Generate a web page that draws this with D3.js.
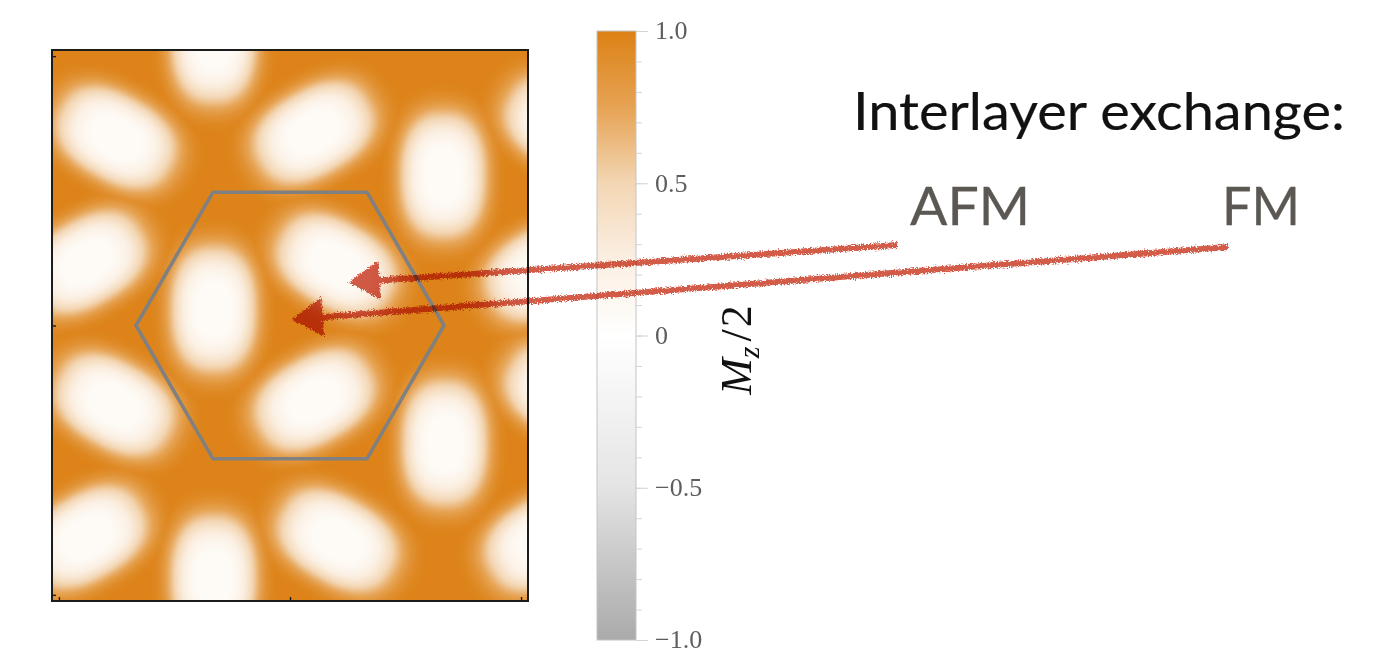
<!DOCTYPE html>
<html>
<head>
<meta charset="utf-8">
<script src="https://cdn.jsdelivr.net/npm/d3@7"></script>
<style>
  html, body { margin: 0; padding: 0; background: #fff; }
  svg { display: block; }
</style>
</head>
<body>
<div id="chart"></div>
<script>
// blob centres, in plot units, grouped by the direction of the long axis
const vertBlobs = [[-0.99, 3.70], [-0.99, 0.21], [-0.99, -3.28], [1.99, 1.95], [2.01, -1.53]];
const backBlobs = [[-2.26, 2.44], [0.60, 0.79], [-2.28, -1.03], [0.62, -2.79], [3.57, 2.58], [3.57, -0.90]];
const slashBlobs = [[0.31, 2.51], [-2.64, 0.82], [0.32, -0.97], [-2.64, -2.75], [3.31, 0.72], [3.31, -2.79]];
const blobAngles = { vert: 90, back: -30, slash: 30 };
const blobAxes = [0.76, 0.52];   // semi-major, semi-minor
const coreValue = 0.07;          // Mz/2 in the middle of a blob
const plainValue = 1.0;          // Mz/2 away from the blobs

// unit cell outline
const hexCorners = [[2, 0], [1, 1.732], [-1, 1.732], [-2, 0], [-1, -1.732], [1, -1.732]];

const xTicks = [-3, 0, 3];
const yTicks = [-3.5, 0, 3.5];
const barTicks = [-1, -0.5, 0, 0.5, 1];
const barLabels = ['\u22121.0', '\u22120.5', '0', '0.5', '1.0'];
const colorStops = [-1, -0.5, 0, 0.25, 0.5, 0.75, 1];
const colorValues = ['#aaaaaa', '#e4e4e4', '#ffffff', '#fbefe2', '#f3d6b4', '#e6a354', '#dc8115'];

// where the arrows point, plot units
const arrowTargets = { AFM: [0.78, 0.56], FM: [0.04, 0.08] };

const W = 1394, H = 653;
const plot = { left: 52, right: 528, top: 50, bottom: 601 };
const bar = { left: 597, right: 636, top: 31, bottom: 640 };

const svg = d3.select('#chart').append('svg')
  .attr('width', W)
  .attr('height', H);

const defs = svg.append('defs');

const x = d3.scaleLinear().domain([-3.09, 3.09]).range([plot.left, plot.right]);
const y = d3.scaleLinear().domain([-3.58, 3.58]).range([plot.bottom, plot.top]);
const color = d3.scaleLinear().domain(colorStops).range(colorValues).clamp(true);

// field from the blobs
const blobs = [
  ...vertBlobs.map(p => ({ p, a: blobAngles.vert })),
  ...backBlobs.map(p => ({ p, a: blobAngles.back })),
  ...slashBlobs.map(p => ({ p, a: blobAngles.slash }))
];

function field(u, v) {
  let most = 0;
  blobs.forEach(b => {
    const t = b.a * Math.PI / 180;
    const dx = u - b.p[0], dy = v - b.p[1];
    const along = Math.abs(dx * Math.cos(t) + dy * Math.sin(t)) / blobAxes[0];
    const across = Math.abs(-dx * Math.sin(t) + dy * Math.cos(t)) / blobAxes[1];
    const d = Math.pow(Math.pow(along, 2.4) + Math.pow(across, 2.4), 1 / 2.4);
    most = Math.max(most, Math.exp(-Math.LN2 * d * d * d * d));
  });
  return plainValue - (plainValue - coreValue) * most;
}

const nx = 210, ny = 243;
const gx = d3.scaleLinear().domain([0, nx]).range(x.domain());
const gy = d3.scaleLinear().domain([0, ny]).range([y.domain()[1], y.domain()[0]]);
const values = new Float64Array(nx * ny);
for (let j = 0; j < ny; j++) {
  for (let i = 0; i < nx; i++) {
    values[i + j * nx] = field(gx(i + 0.5), gy(j + 0.5));
  }
}

const thresholds = d3.range(0.04, 1.0, 0.015);
const contours = d3.contours().size([nx, ny]).thresholds(thresholds)(values);
const path = d3.geoPath(d3.geoTransform({
  point(cx, cy) { this.stream.point(x(gx(cx)), y(gy(cy))); }
}));

defs.append('clipPath').attr('id', 'plotClip')
  .append('rect')
  .attr('x', plot.left).attr('y', plot.top)
  .attr('width', plot.right - plot.left)
  .attr('height', plot.bottom - plot.top);

const density = svg.append('g').attr('clip-path', 'url(#plotClip)');
density.append('rect')
  .attr('x', plot.left).attr('y', plot.top)
  .attr('width', plot.right - plot.left)
  .attr('height', plot.bottom - plot.top)
  .attr('fill', color(coreValue));
density.selectAll('path.level')
  .data(contours)
  .enter()
  .append('path')
  .attr('class', 'level')
  .attr('d', path)
  .attr('fill', d => color(d.value))
  .attr('stroke', d => color(d.value))
  .attr('stroke-width', 0.4);

// hexagon
svg.append('path')
  .attr('d', d3.line().x(d => x(d[0])).y(d => y(d[1]))(hexCorners) + 'Z')
  .attr('fill', 'none')
  .attr('stroke', '#808080')
  .attr('stroke-width', 3.6);

// frame and ticks
svg.append('rect')
  .attr('x', plot.left).attr('y', plot.top)
  .attr('width', plot.right - plot.left)
  .attr('height', plot.bottom - plot.top)
  .attr('fill', 'none')
  .attr('stroke', '#1c1c1c')
  .attr('stroke-width', 2);

svg.append('g')
  .attr('transform', `translate(0,${plot.bottom})`)
  .call(d3.axisTop(x).tickValues(xTicks).tickSize(4).tickFormat(''))
  .call(g => g.select('.domain').remove())
  .call(g => g.selectAll('line').attr('stroke', '#1c1c1c').attr('stroke-width', 1.4));

svg.append('g')
  .attr('transform', `translate(${plot.left},0)`)
  .call(d3.axisRight(y).tickValues(yTicks).tickSize(4).tickFormat(''))
  .call(g => g.select('.domain').remove())
  .call(g => g.selectAll('line').attr('stroke', '#1c1c1c').attr('stroke-width', 1.4));

// colour bar
const cb = d3.scaleLinear().domain([-1, 1]).range([bar.bottom, bar.top]);
const grad = defs.append('linearGradient')
  .attr('id', 'barGrad')
  .attr('x1', 0).attr('y1', 1).attr('x2', 0).attr('y2', 0);
grad.selectAll('stop')
  .data(d3.range(-1, 1.0001, 0.05))
  .enter()
  .append('stop')
  .attr('offset', d => (d + 1) / 2)
  .attr('stop-color', d => color(d));

svg.append('rect')
  .attr('x', bar.left).attr('y', bar.top)
  .attr('width', bar.right - bar.left)
  .attr('height', bar.bottom - bar.top)
  .attr('fill', 'url(#barGrad)')
  .attr('stroke', '#c4c4c4')
  .attr('stroke-width', 1);

svg.append('g')
  .attr('transform', `translate(${bar.right},0)`)
  .call(d3.axisRight(cb).tickValues(d3.range(-10, 11).map(k => k / 10)).tickSize(6).tickFormat(''))
  .call(g => g.select('.domain').remove())
  .call(g => g.selectAll('line').attr('stroke', '#d4d4d4'));

svg.append('g')
  .attr('transform', `translate(${bar.right},0)`)
  .call(d3.axisRight(cb).tickValues(barTicks).tickSize(12).tickPadding(7)
    .tickFormat((d, i) => barLabels[i]))
  .call(g => g.select('.domain').remove())
  .call(g => g.selectAll('line').attr('stroke', '#d4d4d4'))
  .call(g => g.selectAll('text')
    .attr('fill', '#5e5e5e')
    .attr('font-family', '"Liberation Serif", "Times New Roman", serif')
    .attr('font-size', 26)
    .attr('dy', '0.3em'));

// colour bar title
const barTitle = svg.append('text')
  .attr('transform', `translate(751,350) rotate(-90)`)
  .attr('text-anchor', 'middle')
  .attr('font-family', '"Liberation Serif", "Times New Roman", serif')
  .attr('font-size', 44)
  .attr('fill', '#111');
barTitle.append('tspan').attr('font-style', 'italic').text('M');
barTitle.append('tspan').attr('font-style', 'italic').attr('font-size', 30).attr('dy', 8).text('z');
barTitle.append('tspan').attr('dy', -8).attr('dx', 5).text('/');
barTitle.append('tspan').attr('dx', 2).text('2');

// annotation text
const sans = 'Lato, "Open Sans", sans-serif';
svg.append('text')
  .attr('x', 853).attr('y', 130)
  .attr('font-family', sans)
  .attr('font-size', 52)
  .attr('fill', '#111')
  .attr('stroke', '#111')
  .attr('stroke-width', 0.2)
  .attr('textLength', 492)
  .attr('lengthAdjust', 'spacingAndGlyphs')
  .text('Interlayer exchange:');

const labels = [
  { name: 'AFM', x: 910, width: 120, tail: [897, 245] },
  { name: 'FM', x: 1222, width: 78, tail: [1228, 247] }
];
svg.selectAll('text.mode')
  .data(labels)
  .enter()
  .append('text')
  .attr('class', 'mode')
  .attr('x', d => d.x).attr('y', 225)
  .attr('font-family', sans)
  .attr('font-size', 53)
  .attr('fill', '#5b5853')
  .attr('stroke', '#5b5853')
  .attr('stroke-width', 0.3)
  .attr('textLength', d => d.width)
  .attr('lengthAdjust', 'spacingAndGlyphs')
  .text(d => d.name);

// hand drawn arrows
defs.append('filter')
  .attr('id', 'rough')
  .attr('filterUnits', 'userSpaceOnUse')
  .attr('x', 0).attr('y', 0).attr('width', W).attr('height', H)
  .call(f => {
    f.append('feTurbulence').attr('type', 'fractalNoise').attr('baseFrequency', 0.7)
      .attr('numOctaves', 2).attr('seed', 3).attr('result', 'noise');
    f.append('feDisplacementMap').attr('in', 'SourceGraphic').attr('in2', 'noise')
      .attr('scale', 6).attr('xChannelSelector', 'R').attr('yChannelSelector', 'G');
  });

const arrowLayer = svg.append('g')
  .attr('filter', 'url(#rough)')
  .style('mix-blend-mode', 'multiply');

labels.forEach(d => {
  const tip = [x(arrowTargets[d.name][0]), y(arrowTargets[d.name][1])];
  const dx = d.tail[0] - tip[0], dy = d.tail[1] - tip[1];
  const len = Math.hypot(dx, dy);
  const ux = dx / len, uy = dy / len;
  const headLen = 29, headHalf = 18.5;
  const base = [tip[0] + ux * headLen, tip[1] + uy * headLen];
  arrowLayer.append('line')
    .attr('x1', d.tail[0]).attr('y1', d.tail[1])
    .attr('x2', base[0] - ux * 4).attr('y2', base[1] - uy * 4)
    .attr('stroke', '#d35b48')
    .attr('stroke-width', 6);
  arrowLayer.append('path')
    .attr('d', d3.line()([
      tip,
      [base[0] - uy * headHalf, base[1] + ux * headHalf],
      [base[0] + uy * headHalf, base[1] - ux * headHalf]
    ]) + 'Z')
    .attr('fill', '#d35b48')
    .attr('stroke', '#d35b48')
    .attr('stroke-width', 1.5)
    .attr('stroke-linejoin', 'round');
});
</script>
</body>
</html>
